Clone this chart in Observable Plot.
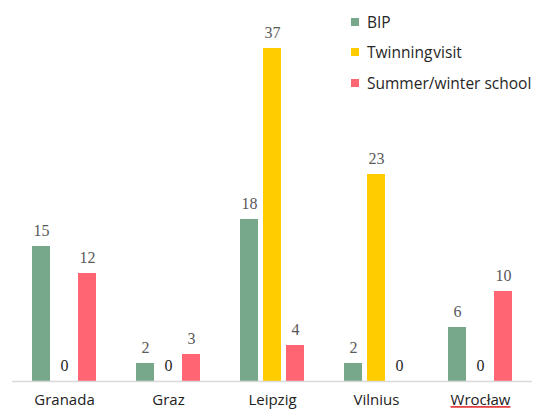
<!DOCTYPE html>
<html><head><meta charset="utf-8">
<script src="https://cdn.jsdelivr.net/npm/d3@7"></script>
<script src="https://cdn.jsdelivr.net/npm/@observablehq/plot@0.6"></script>
<style>
body{margin:0;background:#fff;}
#wrap{position:relative;width:535px;height:412px;overflow:hidden;}
#legend{position:absolute;left:351px;top:0;font-family:"Open Sans",sans-serif;font-size:15.5px;color:#262626;}
#legend .row{position:absolute;left:0;white-space:nowrap;display:flex;align-items:center;height:20px;}
#legend .sw{width:8px;height:8px;margin-right:8px;flex:none;}
</style>
</head><body>
<div id="wrap"><div id="chart"></div><div id="legend"></div></div>
<script>
const cities = ["Granada", "Graz", "Leipzig", "Vilnius", "Wrocław"];
const series = ["BIP", "Twinning visit", "Summer/winter school"];
const bip = [15, 2, 18, 2, 6];
const twinning = [0, 0, 37, 23, 0];
const school = [12, 3, 4, 0, 10];
const colors = ["#78a88c", "#ffcc00", "#ff6572"];

const data = cities.flatMap((c, i) =>
  [bip, twinning, school].map((arr, j) => ({city: c, series: series[j], value: arr[i]}))
);

const plot = Plot.plot({
  width: 535,
  height: 412,
  marginTop: 48,
  marginBottom: 31,
  marginLeft: 10,
  marginRight: 2,
  fx: {domain: cities, padding: 0, label: null, axis: "bottom", tickSize: 0, tickPadding: 13},
  x: {domain: series, axis: null, paddingInner: 0.229, paddingOuter: 0.86},
  y: {domain: [0, 37], axis: null},
  color: {domain: series, range: colors},
  style: {fontFamily: "Open Sans, sans-serif", fontSize: "15px", color: "#222", background: "#fff"},
  marks: [
    Plot.barY(data, {fx: "city", x: "series", y: "value", fill: "series"}),
    Plot.ruleY([0], {stroke: "#d9d9d9", strokeWidth: 1.5}),
    Plot.text(data.filter(d => d.value !== 0), {fx: "city", x: "series", y: "value", text: "value", dy: -16, fontFamily: "Liberation Serif", fontSize: 16, fill: "#595959"}),
    Plot.text(data.filter(d => d.value === 0), {fx: "city", x: "series", y: "value", text: "value", dy: -16, fontFamily: "Liberation Serif", fontSize: 16, fill: "#262626"})
  ]
});
document.getElementById("chart").appendChild(plot);

// spell-check style wavy red underline under "Wrocław"
d3.select(plot).selectAll("text").filter(function(){ return this.textContent === "Wrocław"; })
  .each(function(){
    const t = d3.select(this);
    const label = this.textContent;
    t.text("");
    t.attr("fill", "#e02020")
     .style("text-decoration-line", "underline")
     .style("text-decoration-style", "wavy")
     .style("text-decoration-color", "#e02020");
    t.append("tspan").attr("fill", "#222").text(label);
  });

const legend = document.getElementById("legend");
const rowTops = [12, 42, 73];
series.forEach((s, i) => {
  const row = document.createElement("div");
  row.className = "row";
  row.style.top = rowTops[i] + "px";
  const sw = document.createElement("div");
  sw.className = "sw";
  sw.style.background = colors[i];
  const t = document.createElement("span");
  t.textContent = s;
  if (i === 1) t.style.wordSpacing = "-3px";
  row.appendChild(sw);
  row.appendChild(t);
  legend.appendChild(row);
});
</script>
</body></html>
